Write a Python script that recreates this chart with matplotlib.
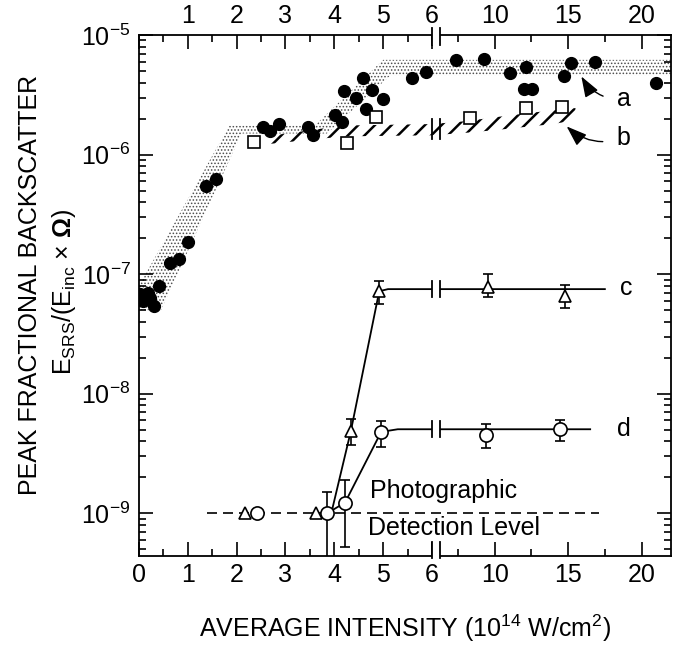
import numpy as np
import matplotlib
matplotlib.use("Agg")
import matplotlib.pyplot as plt
from matplotlib.ticker import FixedLocator, FixedFormatter, LogLocator, NullFormatter
from matplotlib.patches import Rectangle

plt.rcParams['font.family'] = ['Liberation Sans', 'DejaVu Sans']
plt.rcParams['mathtext.fontset'] = 'custom'
plt.rcParams['mathtext.rm'] = 'Liberation Sans'
plt.rcParams['mathtext.it'] = 'Liberation Sans:italic'
plt.rcParams['mathtext.bf'] = 'Liberation Sans:bold'

# --- data ---
# a: filled circles
a_x = [0.03, 0.08, 0.12, 0.18, 0.05, 0.22, 0.3, 0.4, 0.64, 0.81, 1.01, 1.37, 1.58,
       2.53, 2.68, 2.87, 3.47, 3.57, 4.02, 4.15, 4.20, 4.44, 4.58, 4.65, 4.78, 4.99,
       5.59, 5.87, 7.35, 9.25, 11.07, 12.1, 11.97, 12.56, 15.2, 14.7, 16.85, 21.0]
a_y = [6.8e-8, 6.0e-8, 6.6e-8, 7.0e-8, 6.2e-8, 6.3e-8, 5.4e-8, 7.9e-8, 1.23e-7, 1.35e-7,
       1.86e-7, 5.45e-7, 6.2e-7, 1.69e-6, 1.56e-6, 1.81e-6, 1.7e-6, 1.47e-6, 2.13e-6,
       1.86e-6, 3.4e-6, 2.96e-6, 4.36e-6, 2.4e-6, 3.48e-6, 2.9e-6, 4.36e-6, 4.95e-6,
       6.2e-6, 6.3e-6, 4.8e-6, 5.45e-6, 3.54e-6, 3.54e-6, 5.8e-6, 4.55e-6, 5.9e-6, 4.0e-6]
# a: stippled band
a_band_upper_x = [0.0, 1.85, 3.6, 5.0, 22.0]
a_band_upper_y = [8.0e-8, 1.75e-6, 1.75e-6, 6.2e-6, 6.2e-6]
a_band_lower_x = [0.0, 0.45, 2.1, 3.85, 5.15, 22.0]
a_band_lower_y = [5.0e-8, 5.0e-8, 1.5e-6, 1.5e-6, 4.6e-6, 4.6e-6]

# b: open squares and hatched band
b_x = [2.36, 4.26, 4.85, 8.3, 12.15, 14.6]
b_y = [1.28e-6, 1.24e-6, 2.06e-6, 2.02e-6, 2.45e-6, 2.48e-6]
b_band_x = [2.6, 4.2, 6.0, 8.0, 10.0, 12.0, 14.0, 15.5]
b_band_lo = [1.22e-6, 1.42e-6, 1.45e-6, 1.52e-6, 1.6e-6, 1.7e-6, 1.8e-6, 1.95e-6]
b_band_hi = [1.42e-6, 1.75e-6, 1.8e-6, 1.9e-6, 2.05e-6, 2.2e-6, 2.35e-6, 2.45e-6]

# c: open triangles
c_det_x = [2.17, 3.63]
c_det_y = [1.0e-9, 1.0e-9]
c_x = [4.34, 4.92, 9.54, 14.76]
c_y = [4.9e-9, 7.2e-8, 7.8e-8, 6.6e-8]
c_lo = [3.7e-9, 5.6e-8, 6.5e-8, 5.25e-8]
c_hi = [6.1e-9, 8.7e-8, 1.0e-7, 8.1e-8]
c_line_x = [3.95, 4.34, 4.92, 5.1, 17.5]
c_line_y = [1.05e-9, 4.9e-9, 7.2e-8, 7.5e-8, 7.5e-8]

# d: open circles
d_det_x = [2.41]
d_det_y = [1.0e-9]
d_x = [3.85, 4.22, 4.96, 9.43, 14.42]
d_y = [1.0e-9, 1.23e-9, 4.8e-9, 4.5e-9, 5.1e-9]
d_lo = [3.0e-10, 5.25e-10, 3.6e-9, 3.55e-9, 4.0e-9]
d_hi = [1.5e-9, 1.9e-9, 5.9e-9, 5.6e-9, 6.0e-9]
d_line_x = [3.85, 4.22, 4.96, 5.3, 16.5]
d_line_y = [1.0e-9, 1.23e-9, 4.8e-9, 5.05e-9, 5.05e-9]

detect_x = [1.39, 17.1]
detect_level = 1e-9

xticks = [0, 1, 2, 3, 4, 5, 6, 10, 15, 20]
xminor = [0.5, 1.5, 2.5, 3.5, 4.5, 5.5, 7.5, 12.5, 17.5]
yticks = [1e-9, 1e-8, 1e-7, 1e-6, 1e-5]
ylabels = ['10$^{-9}$', '10$^{-8}$', '10$^{-7}$', '10$^{-6}$', '10$^{-5}$']

# broken x axis: 0-6 full scale, above 6 compressed
GAP = 0.08
R = 0.301
BRK = (6.0, 6.3)
FS = 18


def fwd(x):
    x = np.asarray(x, float)
    return np.where(x <= 6, x, 6 + GAP + (x - 6) * R)


def inv(u):
    u = np.asarray(u, float)
    return np.where(u <= 6, u, np.where(u < 6 + GAP, 6.0, 6 + (u - 6 - GAP) / R))


fig = plt.figure(figsize=(6.75, 6.47), dpi=100)
ax = fig.add_axes([139 / 675, 1 - 556 / 647, 532 / 675, 521 / 647])
ax.set_yscale('log')
ax.set_xscale('function', functions=(fwd, inv))
ax.set_xlim(0, 22)
ax.set_ylim(4.4e-10, 1e-5)

# band a (stipple)
plt.rcParams['hatch.linewidth'] = 0.7
px = a_band_upper_x + a_band_lower_x[::-1]
py = a_band_upper_y + a_band_lower_y[::-1]
ax.fill(px, py, facecolor='none', edgecolor='0.3', hatch='.....', linewidth=0, zorder=1)

# band b (hatched)
plt.rcParams['hatch.linewidth'] = 1.8
ax.fill_between(b_band_x, b_band_lo, b_band_hi, facecolor='none', edgecolor='black',
                hatch='//', linewidth=0, zorder=1)

ax.plot(a_x, a_y, 'o', color='black', ms=8.5, zorder=4)
ax.plot(b_x, b_y, 's', mfc='white', mec='black', mew=1.2, ms=9, zorder=4)

# detection level
ax.plot(detect_x, [detect_level] * 2, color='black', lw=1.2, dashes=(6, 3.6), zorder=2)

# guide lines c, d
ax.plot(c_line_x, c_line_y, color='black', lw=1.3, zorder=2)
ax.plot(d_line_x, d_line_y, color='black', lw=1.3, zorder=2)

tri = dict(marker='^', mfc='white', mec='black', mew=1.2, ms=8.5)
circ = dict(marker='o', mfc='white', mec='black', mew=1.2, ms=9.5)
ax.plot(c_det_x, c_det_y, ls='none', zorder=4, **tri)
ax.plot(d_det_x, d_det_y, ls='none', zorder=4, **circ)
ax.errorbar(c_x, c_y, yerr=[np.array(c_y) - c_lo, np.array(c_hi) - c_y], ls='none',
            ecolor='black', elinewidth=1.2, capsize=3.5, capthick=1.2, zorder=4, **tri)
ax.errorbar(d_x, d_y, yerr=[np.array(d_y) - d_lo, np.array(d_hi) - d_y], ls='none',
            ecolor='black', elinewidth=1.2, capsize=3.5, capthick=1.2, zorder=4, **circ)


def break_mark(y, h=0.065, clip=True):
    lo, hi = y * 10 ** (-h), y * 10 ** h
    ax.add_patch(Rectangle((BRK[0], lo), BRK[1] - BRK[0], hi - lo, facecolor='white',
                           edgecolor='none', zorder=5, clip_on=clip))
    for xb in BRK:
        ax.plot([xb, xb], [lo, hi], color='black', lw=1.3, zorder=6, clip_on=clip)


break_mark(c_line_y[-1])
break_mark(d_line_y[-1])
break_mark(4.4e-10 * 10 ** 0.05, h=0.07, clip=False)
break_mark(1e-5 * 10 ** -0.01, h=0.07, clip=False)
# band b break
ax.plot([BRK[0], BRK[0]], [1.35e-6, 2.0e-6], color='black', lw=1.3, zorder=6)
ax.plot([BRK[1], BRK[1]], [1.35e-6, 2.0e-6], color='black', lw=1.3, zorder=6)

# axis ticks
ax.xaxis.set_major_locator(FixedLocator(xticks))
ax.xaxis.set_minor_locator(FixedLocator(xminor))
ax.xaxis.set_major_formatter(FixedFormatter([str(t) for t in xticks]))
ax.yaxis.set_major_locator(FixedLocator(yticks))
ax.yaxis.set_major_formatter(FixedFormatter(ylabels))
ax.yaxis.set_minor_locator(LogLocator(base=10, subs=np.arange(2, 10)))
ax.yaxis.set_minor_formatter(NullFormatter())
ax.tick_params(which='both', direction='in', top=True, right=True, labeltop=True,
               width=1.2, labelsize=FS)
ax.tick_params(which='major', length=10)
ax.tick_params(which='minor', length=5)
ax.tick_params(axis='x', which='major', pad=5)
ax.tick_params(axis='y', which='major', pad=6)
ax.xaxis.get_major_ticks()[0].label2.set_visible(False)
for sp in ax.spines.values():
    sp.set_linewidth(1.3)

# labels
ax.text(4.73, 1.55e-9, 'Photographic', fontsize=FS, va='center', ha='left')
ax.text(4.69, 7.5e-10, 'Detection Level', fontsize=FS, va='center', ha='left')
ax.text(18.5, 7.6e-8, 'c', fontsize=FS, va='center')
ax.text(18.3, 5.1e-9, 'd', fontsize=FS, va='center')
ax.annotate('a', xy=(15.9, 4.5e-6), xytext=(18.3, 2.9e-6), fontsize=FS, va='center',
            arrowprops=dict(arrowstyle='-|>,head_length=0.7,head_width=0.25', color='black',
                            lw=1.0, shrinkA=8, shrinkB=0,
                            connectionstyle='arc3,rad=-0.3'))
ax.annotate('b', xy=(14.9, 1.72e-6), xytext=(18.3, 1.38e-6), fontsize=FS, va='center',
            arrowprops=dict(arrowstyle='-|>,head_length=0.7,head_width=0.25', color='black',
                            lw=1.0, shrinkA=8, shrinkB=0,
                            connectionstyle='arc3,rad=-0.3'))

fig.text(30 / 675, 1 - 285 / 647, 'PEAK FRACTIONAL BACKSCATTER', rotation=90,
         ha='center', va='center', fontsize=FS)
fig.text(64 / 675, 1 - 292 / 647,
         r'E$_{\mathrm{SRS}}$/(E$_{\mathrm{inc}}$ $\times$ $\mathbf{\Omega}$)',
         rotation=90, ha='center', va='center', fontsize=FS)
fig.text(405 / 675, 1 - 628 / 647, r'AVERAGE INTENSITY (10$^{14}$ W/cm$^{2}$)',
         ha='center', va='center', fontsize=FS)

fig.savefig('out.png', dpi=100)
